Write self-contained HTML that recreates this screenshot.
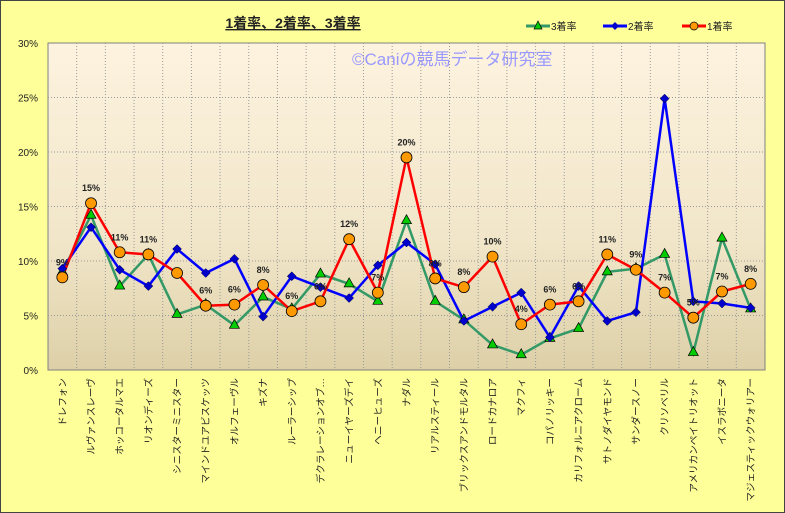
<!DOCTYPE html>
<html><head><meta charset="utf-8"><style>
body{margin:0;width:785px;height:513px;overflow:hidden;background:#fff}
svg{display:block;font-family:"Liberation Sans","Noto Sans CJK JP",sans-serif}
</style></head><body>
<svg id="s" width="785" height="513" xmlns="http://www.w3.org/2000/svg">
<defs><linearGradient id="g" x1="0" y1="0" x2="0" y2="1"><stop offset="0" stop-color="#fdf3df"/><stop offset="0.6" stop-color="#f1e6c9"/><stop offset="1" stop-color="#ddd0a8"/></linearGradient></defs>
<rect x="0.5" y="0.5" width="784" height="512" fill="#ffff99" stroke="#444" stroke-width="1"/>
<rect x="48" y="43" width="717" height="327" fill="url(#g)" stroke="#808080"/>
<text x="293" y="28" font-size="14" font-weight="bold" text-anchor="middle" fill="#222" text-decoration="underline">1着率、2着率、3着率</text>
<text x="352" y="65" font-size="17" fill="#9999ff">©Caniの競馬データ研究室</text>
<g font-size="10" fill="#222">
<line x1="526" y1="26" x2="550" y2="26" stroke="#339966" stroke-width="3"/><polygon points="538,21 542,29 534,29" fill="#00cc00" stroke="#000" stroke-width="0.7"/><text x="551" y="30">3着率</text>
<line x1="603" y1="26" x2="627" y2="26" stroke="#0000ff" stroke-width="3"/><polygon points="615,22 619,26 615,30 611,26" fill="#0000cc"/><text x="628" y="30">2着率</text>
<line x1="682" y1="26" x2="706" y2="26" stroke="#ff0000" stroke-width="3"/><circle cx="694" cy="26" r="4" fill="#ff9900" stroke="#000" stroke-width="0.7"/><text x="707" y="30">1着率</text>
</g>
<g id="grid"></g><g id="lines"></g><g id="labels"></g>
</svg>
<script>
const NS="http://www.w3.org/2000/svg";
const names=["ドレフォン","ルヴァンスレーヴ","ホッコータルマエ","リオンディーズ","シニスターミニスター","マインドユアビスケッツ","オルフェーヴル","キズナ","ルーラーシップ","デクラレーションオブ…","ニューイヤーズデイ","ヘニーヒューズ","ナダル","リアルスティール","ブリックスアンドモルタル","ロードカナロア","マクフィ","コパノリッキー","カリフォルニアクローム","サトノダイヤモンド","サンダースノー","クリソベリル","アメリカンペイトリオット","イスラボニータ","マジェスティックウォリアー"];
const lab=["9%","15%","11%","11%","","6%","6%","8%","6%","6%","12%","7%","20%","8%","8%","10%","4%","6%","6%","11%","9%","7%","5%","7%","8%"];
const r1=[8.5,15.3,10.8,10.6,8.9,5.9,6.0,7.8,5.4,6.3,12.0,7.1,19.5,8.4,7.6,10.4,4.2,6.0,6.3,10.6,9.2,7.1,4.8,7.2,7.9];
const r2=[9.3,13.1,9.2,7.7,11.1,8.9,10.2,4.9,8.6,7.6,6.6,9.6,11.7,9.7,4.5,5.8,7.1,3.0,7.7,4.5,5.3,24.9,6.3,6.1,5.7];
const r3=[9.0,14.2,7.7,10.6,5.1,6.0,4.1,6.7,5.6,8.8,7.9,6.3,13.7,6.3,4.6,2.3,1.4,2.9,3.8,9.0,9.3,10.6,1.6,12.1,5.6];
const X=i=>48+28.68*(i+0.5), Y=v=>370-v*10.9;
function el(t,a,p,txt){const e=document.createElementNS(NS,t);for(const k in a)e.setAttribute(k,a[k]);if(txt)e.textContent=txt;document.getElementById(p).appendChild(e);return e;}
for(let k=1;k<6;k++)el("line",{x1:48,x2:765,y1:370-k*54.5,y2:370-k*54.5,stroke:"#999","stroke-dasharray":"1,2"},"grid");
for(let i=1;i<25;i++)el("line",{x1:48+28.68*i,x2:48+28.68*i,y1:43,y2:370,stroke:"#999","stroke-dasharray":"1,2"},"grid");
for(let k=0;k<=6;k++)el("text",{x:38,y:370-k*54.5+4,"font-size":10,"text-anchor":"end",fill:"#222"},"grid",(k*5)+"%");
const pts=a=>a.map((v,i)=>X(i)+","+Y(v)).join(" ");
el("polyline",{points:pts(r3),fill:"none",stroke:"#339966","stroke-width":2.5},"lines");
el("polyline",{points:pts(r2),fill:"none",stroke:"#0000ff","stroke-width":2.5},"lines");
el("polyline",{points:pts(r1),fill:"none",stroke:"#ff0000","stroke-width":2.5},"lines");
r3.forEach((v,i)=>{const x=X(i),y=Y(v);el("polygon",{points:`${x},${y-6} ${x+5},${y+3} ${x-5},${y+3}`,fill:"#00cc00",stroke:"#000","stroke-width":0.7},"lines")});
r2.forEach((v,i)=>{const x=X(i),y=Y(v);el("polygon",{points:`${x},${y-4.5} ${x+4.5},${y} ${x},${y+4.5} ${x-4.5},${y}`,fill:"#0000cc",stroke:"#000033","stroke-width":0.5},"lines")});
r1.forEach((v,i)=>{const x=X(i),y=Y(v);el("circle",{cx:x,cy:y,r:5.5,fill:"#ff9900",stroke:"#000","stroke-width":0.8},"lines");
 if(lab[i])el("text",{x:x,y:y-12,"font-size":9,"font-weight":"bold","text-anchor":"middle",fill:"#222"},"labels",lab[i])});
names.forEach((n,i)=>{const x=X(i)+3.5,y=378;el("text",{x:x,y:y,"font-size":9.6,"text-anchor":"end",fill:"#222",transform:`rotate(-90 ${x} ${y})`},"labels",n)});
</script>
</body></html>
